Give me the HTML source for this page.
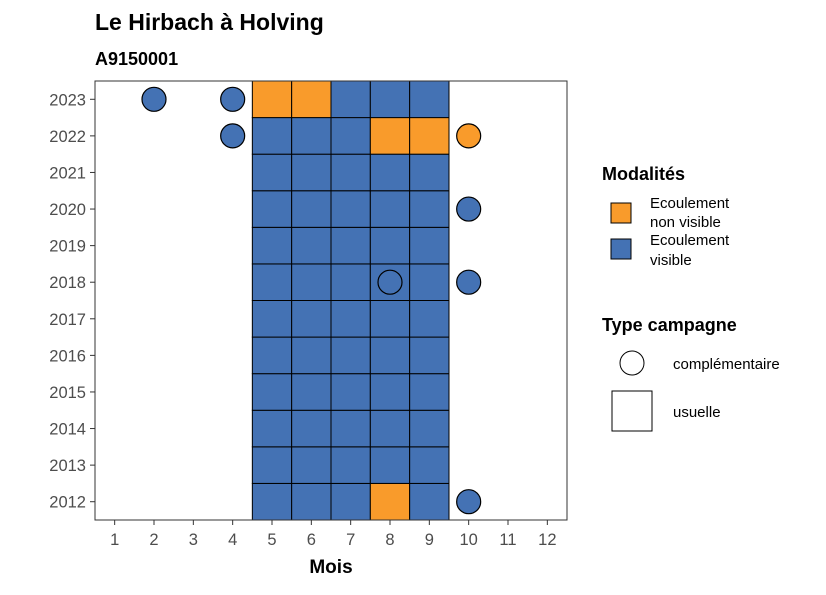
<!DOCTYPE html>
<html><head><meta charset="utf-8">
<style>
body{margin:0;background:#fff;font-family:"Liberation Sans",sans-serif;}
</style></head>
<body>
<svg width="826" height="590" xmlns="http://www.w3.org/2000/svg" font-family="Liberation Sans, sans-serif">
<text x="95" y="30" font-size="23" font-weight="bold" fill="#000">Le Hirbach à Holving</text>
<text x="95" y="65" font-size="18" font-weight="bold" fill="#000">A9150001</text>
<g id="plot"></g>
<rect x="95" y="81" width="472" height="439" fill="none" stroke="#333" stroke-width="1"/>
<text x="331" y="573" font-size="19" font-weight="bold" text-anchor="middle">Mois</text>
<g>
<text x="602" y="180" font-size="18" font-weight="bold">Modalités</text>
<rect x="611" y="203" width="20" height="20" fill="#f99b2b" stroke="#000"/>
<text x="650" y="208" font-size="15">Ecoulement</text>
<text x="650" y="227" font-size="15">non visible</text>
<rect x="611" y="239" width="20" height="20" fill="#4472b4" stroke="#000"/>
<text x="650" y="245" font-size="15">Ecoulement</text>
<text x="650" y="265" font-size="15">visible</text>
<text x="602" y="331" font-size="18" font-weight="bold">Type campagne</text>
<circle cx="632" cy="363" r="12" fill="#fff" stroke="#000"/>
<text x="673" y="369" font-size="15">complémentaire</text>
<rect x="612" y="391" width="40" height="40" fill="#fff" stroke="#000"/>
<text x="673" y="417" font-size="15">usuelle</text>
</g>
</svg>
<script>
const months=[1,2,3,4,5,6,7,8,9,10,11,12];
const years=[2012,2013,2014,2015,2016,2017,2018,2019,2020,2021,2022,2023];
const tileMonths=[5,6,7,8,9];
const tileYears=[2012,2013,2014,2015,2016,2017,2018,2019,2020,2021,2022,2023];
const orangeTiles=[[2023,5],[2023,6],[2022,8],[2022,9],[2012,8]];
const circleYears=[2023,2023,2022,2022,2020,2018,2018,2012];
const circleMonths=[2,4,4,10,10,8,10,10];
const circleTypes=["v","v","v","n","v","v","v","v"];
const BLUE="#4472b4",ORANGE="#f99b2b";
const L=95,R=567,T=81,B=520;
const bw=(R-L)/12,bh=(B-T)/12;
const xs=m=>L+(m-0.5)*bw;
const ys=y=>T+(2023.5-y)*bh;
const NS="http://www.w3.org/2000/svg";
const g=document.getElementById('plot');
function mk(t,a){const e=document.createElementNS(NS,t);for(const k in a)e.setAttribute(k,a[k]);g.appendChild(e);return e;}
tileYears.forEach(y=>tileMonths.forEach(m=>{
 const o=orangeTiles.some(p=>p[0]===y&&p[1]===m);
 const r=mk('rect',{x:xs(m)-bw/2,y:ys(y)-bh/2,width:bw,height:bh,fill:o?ORANGE:BLUE,stroke:'#000','stroke-width':1});
 
 
}));
circleYears.forEach((y,i)=>{
 const c=mk('circle',{cx:xs(circleMonths[i]),cy:ys(y),r:12,fill:circleTypes[i]==='n'?ORANGE:BLUE,stroke:'#000','stroke-width':1.2});
 
 
});
months.forEach(m=>{
 const t=mk('line',{x1:xs(m),x2:xs(m),y1:B,y2:B+5,stroke:'#333'});
 
 
 const l=mk('text',{x:xs(m),y:B+25,'font-size':16.5,'text-anchor':'middle',fill:'#4d4d4d'});
 l.textContent=m;
 
 
});
years.forEach(y=>{
 const t=mk('line',{x1:L-5,x2:L,y1:ys(y),y2:ys(y),stroke:'#333'});
 
 
 const l=mk('text',{x:L-9,y:ys(y)+6,'font-size':16.5,'text-anchor':'end',fill:'#4d4d4d'});
 l.textContent=y;
 
 
});
</script>
</body></html>
